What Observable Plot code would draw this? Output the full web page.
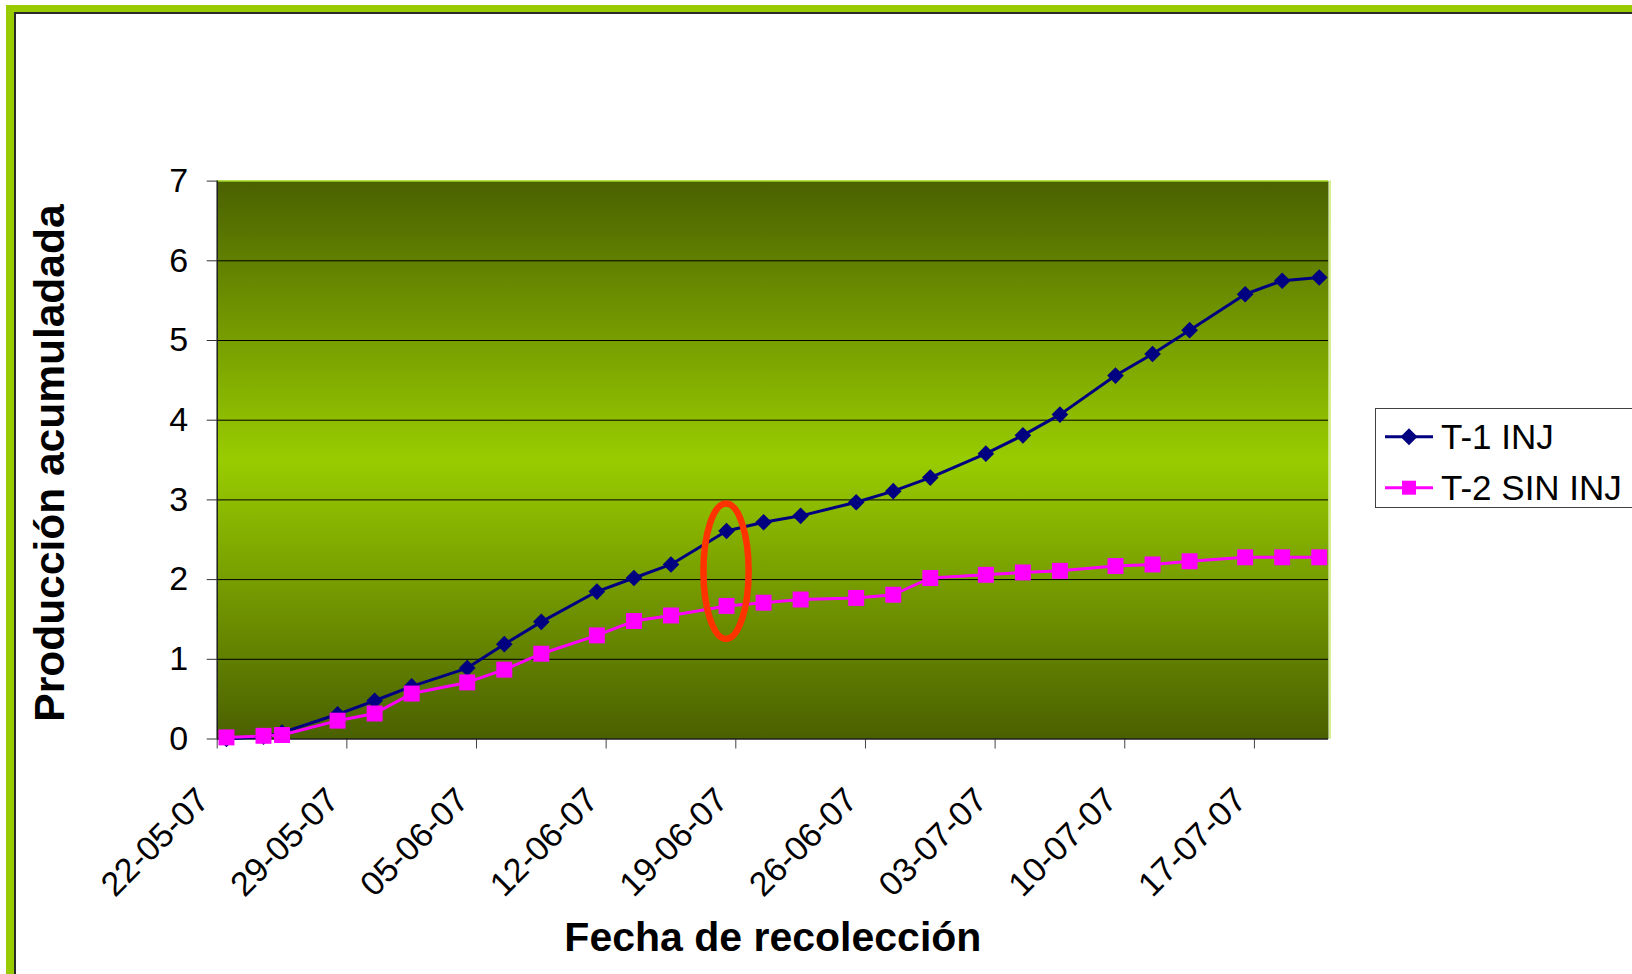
<!DOCTYPE html>
<html>
<head>
<meta charset="utf-8">
<script src="https://cdn.jsdelivr.net/npm/d3@7"></script>
<script src="https://cdn.jsdelivr.net/npm/@observablehq/plot@0.6"></script>
<style>
  html, body { margin: 0; padding: 0; background: #fff; overflow: hidden; }
  body { width: 1632px; height: 974px; position: relative; font-family: "Liberation Sans", Arial, sans-serif; }
  #frame { position: absolute; left: 6px; top: 5px; width: 1700px; height: 1100px;
           border-top: 7px solid #99CC00; border-left: 8px solid #99CC00; }
  #frame2 { position: absolute; left: 0; top: 0; right: 0; bottom: 0;
            border-top: 2px solid #2a2a2a; border-left: 2px solid #2a2a2a; }
  #chart { position: absolute; left: 0; top: 0; }
  #legend { position: absolute; left: 1375px; top: 408px; width: 300px; height: 98px;
            border: 1px solid #404040; background: #fff; }
</style>
</head>
<body>
<div id="frame"><div id="frame2"></div></div>
<div id="chart"></div>
<div id="legend"></div>
<script>
// ---- data ----
const dates = ["22-05-07","24-05-07","25-05-07","28-05-07","30-05-07","01-06-07","04-06-07","06-06-07",
  "08-06-07","11-06-07","13-06-07","15-06-07","18-06-07","20-06-07","22-06-07","25-06-07","27-06-07",
  "29-06-07","02-07-07","04-07-07","06-07-07","09-07-07","11-07-07","13-07-07","16-07-07","18-07-07","20-07-07"];
const t1Values = [0.00,0.03,0.08,0.31,0.48,0.66,0.89,1.19,1.47,1.85,2.02,2.19,2.61,2.72,2.80,2.97,3.11,
  3.28,3.58,3.81,4.07,4.56,4.83,5.13,5.58,5.75,5.79];
const t2Values = [0.02,0.04,0.05,0.23,0.32,0.57,0.71,0.87,1.07,1.30,1.48,1.55,1.67,1.71,1.75,1.77,1.81,
  2.02,2.06,2.09,2.11,2.17,2.19,2.23,2.28,2.28,2.28];
const seriesNames = ["T-1 INJ", "T-2 SIN INJ"];
const seriesColors = ["#000080", "#FF00FF"];
const seriesSymbols = ["diamond2", "square"];
const yTicks = [0, 1, 2, 3, 4, 5, 6, 7];
const xTickLabels = ["22-05-07","29-05-07","05-06-07","12-06-07","19-06-07","26-06-07","03-07-07","10-07-07","17-07-07"];
const xDomainLabels = ["22-05-07", "21-07-07"];
const yTitle = "Producción acumuladada";
const xTitle = "Fecha de recolección";
// highlighted point (red ellipse): centre date/value and half sizes in data units
const highlight = { date: "18-06-07", value: 2.1, halfDays: 1.22, halfUnits: 0.85 };

// ---- build ----
const parse = d3.utcParse("%d-%m-%y");
const fmt = d3.utcFormat("%d-%m-%y");
// Excel date axis: each point sits in the middle of its day
const mid = s => d3.utcHour.offset(parse(s), 12);
const rows = [];
dates.forEach((d, i) => {
  rows.push({ date: mid(d), value: t1Values[i], series: seriesNames[0] });
  rows.push({ date: mid(d), value: t2Values[i], series: seriesNames[1] });
});
const xTickDates = xTickLabels.map(parse);
const font = "'Liberation Sans', Arial, sans-serif";

const plot = Plot.plot({
  width: 1632,
  height: 974,
  marginLeft: 216.7,
  marginRight: 304,
  marginTop: 180.6,
  marginBottom: 235.5,
  style: { fontFamily: font, fontSize: "34px", color: "#000", background: "transparent", overflow: "visible" },
  x: { type: "utc", domain: xDomainLabels.map(parse) },
  y: { domain: [yTicks[0], yTicks[yTicks.length - 1]] },
  color: { domain: seriesNames, range: seriesColors },
  marks: [
    Plot.frame({ fill: "#99CC00" }),
    Plot.gridY(yTicks.slice(1, -1), { stroke: "#000", strokeOpacity: 1, strokeWidth: 1 }),
    Plot.ruleY([yTicks[yTicks.length - 1]], { stroke: "#9fd21a", strokeWidth: 1.5 }),
    Plot.ruleX([parse(xDomainLabels[1])], { stroke: "#d6ef8f", strokeWidth: 2, dx: 1.5 }),
    Plot.axisY({ ticks: yTicks, tickFormat: d3.format("d"), tickSize: 10, tickPadding: 19, fontSize: 34,
      label: null, stroke: "#333" }),
    Plot.axisX({ ticks: xTickDates, tickSize: 10, tickFormat: () => "", label: null, stroke: "#444" }),
    Plot.ruleX([parse(xDomainLabels[0])], { stroke: "#1e1e1e", strokeWidth: 1.5 }),
    Plot.ruleY([yTicks[0]], { stroke: "#1e1e1e", strokeWidth: 1.5 }),
    Plot.text(xTickDates, { x: d => d, frameAnchor: "bottom", text: d => fmt(d), rotate: -45,
      textAnchor: "end", lineAnchor: "bottom", dx: -6, dy: 63, fontSize: 34, fill: "#000" }),
    Plot.line(rows, { x: "date", y: "value", z: "series", stroke: "series", strokeWidth: 3 }),
    Plot.dot(rows.filter(r => r.series === seriesNames[0]), { x: "date", y: "value",
      symbol: seriesSymbols[0], r: 7.5, fill: seriesColors[0], stroke: "none" }),
    Plot.dot(rows.filter(r => r.series === seriesNames[1]), { x: "date", y: "value",
      symbol: seriesSymbols[1], r: 9, fill: seriesColors[1], stroke: "none" }),
    Plot.text([yTitle], { frameAnchor: "left", textAnchor: "middle", rotate: -90, dx: -153, dy: 3,
      lineAnchor: "bottom", fontWeight: "bold", fontSize: 42.5, fill: "#000" }),
    Plot.text([xTitle], { frameAnchor: "bottom", textAnchor: "middle", dy: 211.5, lineAnchor: "bottom",
      fontWeight: "bold", fontSize: 41, fill: "#000" })
  ]
});

const svg = d3.select(plot);
svg.insert("defs", ":first-child").html(
  `<linearGradient id="plotBg" x1="0" y1="0" x2="0" y2="1">
     <stop offset="0" stop-color="#4A6100"/>
     <stop offset="0.5" stop-color="#99CC00"/>
     <stop offset="1" stop-color="#4A6000"/>
   </linearGradient>`);
svg.selectAll('[aria-label="frame"]').each(function () {
  const el = d3.select(this);
  if (this.tagName.toLowerCase() === "rect") el.attr("fill", "url(#plotBg)");
  el.selectAll("rect").attr("fill", "url(#plotBg)");
});

// red ellipse annotation positioned through the plot's scales
const xs = plot.scale("x"), ys = plot.scale("y");
const hc = mid(highlight.date);
const cx = xs.apply(hc), cy = ys.apply(highlight.value);
const rx = xs.apply(d3.utcMinute.offset(hc, Math.round(highlight.halfDays * 1440))) - cx;
const ry = ys.apply(highlight.value - highlight.halfUnits) - cy;
svg.append("ellipse").attr("cx", cx).attr("cy", cy).attr("rx", rx).attr("ry", ry)
  .attr("fill", "none").attr("stroke", "#FF3300").attr("stroke-width", 6.5);

document.getElementById("chart").appendChild(plot);

// legend
const lg = d3.select("#legend").append("svg").attr("width", 300).attr("height", 98);
seriesNames.forEach((name, i) => {
  const y = 27.7 + i * 51;
  lg.append("line").attr("x1", 9).attr("x2", 57).attr("y1", y).attr("y2", y)
    .attr("stroke", seriesColors[i]).attr("stroke-width", 3);
  if (i === 0) {
    lg.append("path").attr("d", `M33,${y - 8.5}L41.5,${y}L33,${y + 8.5}L24.5,${y}Z`).attr("fill", seriesColors[i]);
  } else {
    lg.append("rect").attr("x", 26).attr("y", y - 7).attr("width", 14).attr("height", 14).attr("fill", seriesColors[i]);
  }
  lg.append("text").attr("x", 65).attr("y", y + 12.5).attr("font-family", font).attr("font-size", 35)
    .attr("fill", "#000").text(name);
});
</script>
</body>
</html>
